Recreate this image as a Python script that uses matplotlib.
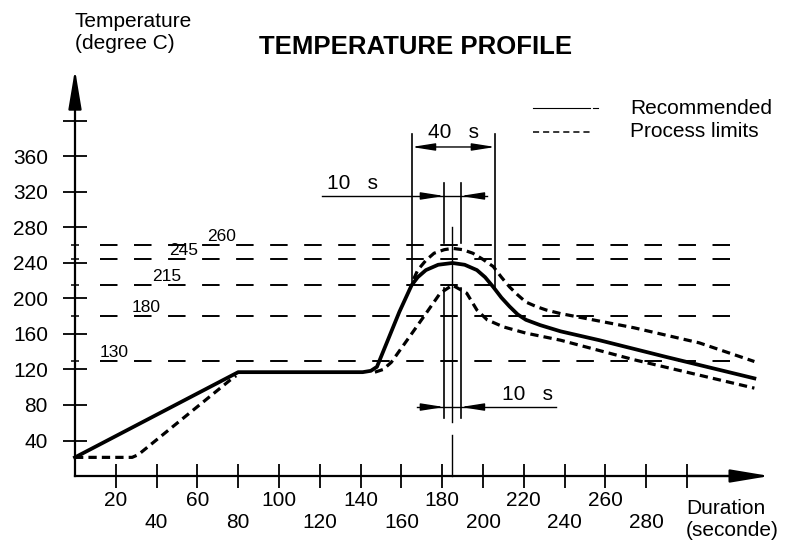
"""
Solder reflow temperature profile (recommended curve + process limits).
"""

import matplotlib
matplotlib.use("Agg")
import matplotlib.pyplot as plt

plt.rcParams['font.family'] = ['Liberation Sans', 'DejaVu Sans']

# Recommended profile (solid line)
rec_time = [0, 80, 141, 145, 148, 159, 165, 168, 172, 178, 185, 191, 197, 201,
            205, 209, 213, 217, 221, 228, 238, 257, 290, 333]
rec_temp = [21, 117, 117, 118.5, 123, 185, 215, 224, 232, 238, 240, 238, 232, 224,
            213, 201, 191, 182, 176, 170, 163, 153, 134, 110]

# Process limits (dashed lines)
low_ramp_time = [0, 28, 31, 76, 79]
low_ramp_temp = [21, 21, 24, 108, 113]

low_time = [147, 151, 155, 164, 172, 179, 185, 192, 197, 202, 210, 221, 238, 274, 333]
low_temp = [117, 120, 128, 157, 183, 206, 215, 206, 187, 176, 168, 161, 153, 131, 99]

up_time = [166, 168, 172, 176, 181, 185, 190, 195, 200, 205, 209, 213, 217, 221,
           226, 231, 238, 274, 306, 333]
up_temp = [222, 232, 243, 251, 255, 256.5, 255, 251, 244, 236, 224, 213, 204, 196,
           191, 187, 183, 167, 150, 129]

# Reference temperature levels
ref_levels = [130, 180, 215, 245, 260]

# Dwell windows (seconds)
window_40s = [165, 206]
window_10s = [181, 189]
peak_time = 185

# Axis ticks
y_ticks = list(range(40, 401, 40))
x_ticks = list(range(20, 301, 20))


def main():
    fig = plt.figure(figsize=(7.96, 5.40), dpi=100)
    ax = fig.add_axes([0, 0, 1, 1])
    ax.set_xlim(-36.76, 353.4)
    ax.set_ylim(-72.1, 536.3)

    # axes with arrows
    for side in ['top', 'right']:
        ax.spines[side].set_visible(False)
    ax.spines['left'].set_position(('data', 0))
    ax.spines['bottom'].set_position(('data', 0))
    ax.spines['left'].set_bounds(0, 430)
    ax.spines['bottom'].set_bounds(0, 320)
    ax.spines['left'].set_linewidth(1.6)
    ax.spines['bottom'].set_linewidth(1.6)
    head = dict(arrowstyle='-|>,head_length=1.2,head_width=0.2', mutation_scale=20,
                lw=1.6, color='black', shrinkA=0, shrinkB=0)
    ax.annotate('', xy=(0, 458), xytext=(0, 420), arrowprops=head)
    ax.annotate('', xy=(340.5, 0), xytext=(300, 0), arrowprops=head)

    ylabels = [str(v) if v <= 360 else '' for v in y_ticks]
    ax.set_yticks(y_ticks, labels=ylabels)
    ax.set_yticks(ref_levels, minor=True)
    ax.tick_params(axis='y', which='major', direction='inout', length=17, width=1.3,
                   pad=11, labelsize=15)
    ax.tick_params(axis='y', which='minor', direction='inout', length=6, width=1.1)

    # alternate rows for the x tick labels
    xlabels = []
    for i, v in enumerate(x_ticks):
        if v > 280:
            xlabels.append('')
        elif i % 2 == 0:
            xlabels.append(str(v))
        else:
            xlabels.append('\n' + str(v))
    ax.set_xticks(x_ticks, labels=xlabels)
    ax.tick_params(axis='x', direction='inout', length=17, width=1.3, pad=2,
                   labelsize=15)

    # reference levels
    label_x = {130: 12, 180: 28, 215: 38, 245: 46, 260: 65}
    for lvl in ref_levels:
        ax.plot([12.3, 322], [lvl, lvl], color='black', lw=1.4,
                linestyle=(0, (9, 8.5)))
        ax.text(label_x[lvl], lvl + 1, str(lvl), fontsize=12.5, ha='left', va='bottom')

    # profiles
    ax.plot(rec_time, rec_temp, color='black', lw=2.7, solid_joinstyle='round')
    dash = (0, (2.6, 1.6))
    ax.plot(low_ramp_time, low_ramp_temp, color='black', lw=2.3, linestyle=dash)
    ax.plot(low_time, low_temp, color='black', lw=2.3, linestyle=dash)
    ax.plot(up_time, up_temp, color='black', lw=2.3, linestyle=dash)

    # 40 s window
    ax.plot([window_40s[0]] * 2, [385, 217.5], color='black', lw=1.2)
    ax.plot([window_40s[1]] * 2, [385, 209.6], color='black', lw=1.2)
    ax.annotate('', xy=(window_40s[0], 370.7), xytext=(window_40s[1], 370.7),
                arrowprops=dict(arrowstyle='<|-|>,head_length=1.4,head_width=0.22',
                                mutation_scale=10, lw=1.0, color='black',
                                shrinkA=0, shrinkB=0))
    ax.text(sum(window_40s) / 2, 387, '40   s', fontsize=15, ha='center', va='center')

    # 10 s window above the peak
    small = dict(arrowstyle='-|>,head_length=1.4,head_width=0.22', mutation_scale=10,
                 lw=1.0, color='black', shrinkA=0, shrinkB=0)
    ax.plot([121, 202], [315.5, 315.5], color='black', lw=1.0)
    for t in window_10s:
        ax.plot([t, t], [330, 262.5], color='black', lw=1.2)
    ax.annotate('', xy=(window_10s[0], 315.5), xytext=(window_10s[0] - 11, 315.5),
                arrowprops=small)
    ax.annotate('', xy=(window_10s[1], 315.5), xytext=(window_10s[1] + 11, 315.5),
                arrowprops=small)
    ax.text(123.5, 330, '10   s', fontsize=15, ha='left', va='center')

    # 10 s window below the peak
    ax.plot([167.6, 236], [77.7, 77.7], color='black', lw=1.0)
    for t in window_10s:
        ax.plot([t, t], [212, 65], color='black', lw=1.2)
    ax.annotate('', xy=(window_10s[0], 77.7), xytext=(window_10s[0] - 11, 77.7),
                arrowprops=small)
    ax.annotate('', xy=(window_10s[1], 77.7), xytext=(window_10s[1] + 11, 77.7),
                arrowprops=small)
    ax.text(209.3, 91.3, '10   s', fontsize=15, ha='left', va='center')

    # peak centre line
    ax.plot([peak_time] * 2, [280.6, 61], color='black', lw=1.0)
    ax.plot([peak_time] * 2, [46, 0], color='black', lw=1.0)

    # legend
    ax.plot([224.5, 252.5], [414.6, 414.6], color='black', lw=0.8)
    ax.plot([254, 256.5], [414.6, 414.6], color='black', lw=0.8)
    ax.plot([224.5, 254], [387.6, 387.6], color='black', lw=1.1, linestyle=(0, (4, 2.6)))
    ax.text(272, 414.6, 'Recommended', fontsize=15, ha='left', va='center')
    ax.text(272, 387.6, 'Process limits', fontsize=15, ha='left', va='center')

    # titles
    ax.text(166.7, 483.4, 'TEMPERATURE PROFILE', fontsize=18.5, fontweight='bold',
            ha='center', va='center')
    ax.text(0, 522.8, 'Temperature\n(degree C)', fontsize=15, ha='left', va='top')
    ax.text(299.5, -26, 'Duration\n(seconde)', fontsize=15, ha='left', va='top')

    fig.savefig('out.png', dpi=100)


if __name__ == "__main__":
    main()
